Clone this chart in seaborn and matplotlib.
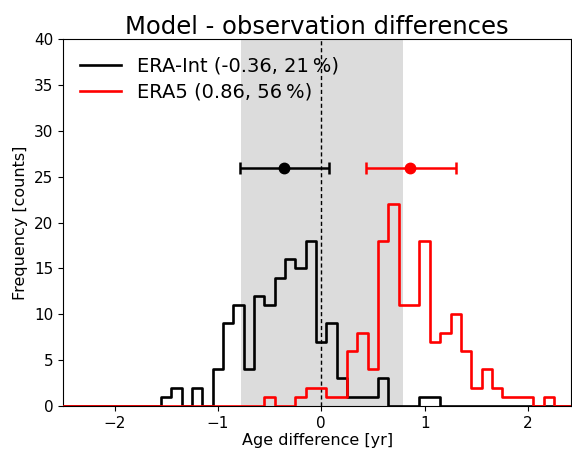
import numpy as np
import pandas as pd
import matplotlib
matplotlib.use("Agg")
import matplotlib.pyplot as plt
import seaborn as sns

# ---- data ----
bin_lo, bin_hi, bin_w = -2.55, 2.45, 0.1
bin_edges = np.round(np.arange(bin_lo, bin_hi + 0.01, bin_w), 2)
bin_centers = np.round((bin_edges[:-1] + bin_edges[1:]) / 2, 2)

# counts per 0.1-yr bin, listed from the bin starting at -1.55 (black) / -0.55 (red)
era_int_start = -1.55
era_int_counts = [1, 2, 0, 2, 0, 4, 9, 11, 4, 12, 11, 14, 16, 15, 18, 7, 9, 3,
                  1, 1, 1, 3, 0, 0, 0, 1, 1]
era5_start = -0.55
era5_counts = [1, 0, 0, 1, 2, 2, 1, 1, 6, 8, 4, 18, 22, 11, 11, 18, 7, 8, 10,
               6, 2, 4, 2, 1, 1, 1, 0, 1]

series_labels = ["ERA-Int (-0.36, 21\u2009%)", "ERA5 (0.86, 56\u2009%)"]
series_colors = ["black", "red"]
series_means = [-0.36, 0.86]
series_err_lo = [0.43, 0.425]
series_err_hi = [0.43, 0.44]
errbar_y = 26
span_range = (-0.78, 0.79)


def full_counts(start, counts):
    w = np.zeros(len(bin_centers))
    i0 = int(np.argmin(np.abs(bin_edges[:-1] - start)))
    w[i0:i0 + len(counts)] = counts
    return w


weights = [full_counts(era_int_start, era_int_counts),
           full_counts(era5_start, era5_counts)]

fig = plt.figure(figsize=(5.72, 4.5), dpi=100)
ax = fig.add_axes([0.110, 0.0978, 0.889, 0.815])

ax.axvspan(span_range[0], span_range[1], color="#dcdcdc", lw=0, zorder=0)
ax.axvline(0, color="black", ls="--", lw=1, dashes=(3, 2), zorder=1)

for w, lab, col in zip(weights, series_labels, series_colors):
    df = pd.DataFrame({"age": bin_centers, "count": w})
    sns.histplot(data=df, x="age", weights="count", binwidth=bin_w,
                 binrange=(bin_lo, bin_hi), element="step",
                 fill=False, color=col, linewidth=1.9, label=lab, ax=ax,
                 zorder=3)

for m, lo, hi, col in zip(series_means, series_err_lo, series_err_hi, series_colors):
    ax.errorbar([m], [errbar_y], xerr=[[lo], [hi]], fmt="o", color=col,
                ms=7.5, lw=1.8, capsize=4.5, capthick=1.8, zorder=4)

ax.set_xlim(-2.5, 2.42)
ax.set_ylim(0, 40)
ax.set_yticks(np.arange(0, 41, 5))
ax.set_xticks([-2, -1, 0, 1, 2])
ax.tick_params(labelsize=11)
ax.set_xlabel("Age difference [yr]", fontsize=11.5, labelpad=2)
ax.set_ylabel("Frequency [counts]", fontsize=11.5)
ax.set_title("Model - observation differences", fontsize=17.5, pad=4)

ax.legend(loc="upper left", frameon=False, fontsize=14, handlelength=2.1,
          labelspacing=0.35)

fig.savefig("out.png", dpi=100)
